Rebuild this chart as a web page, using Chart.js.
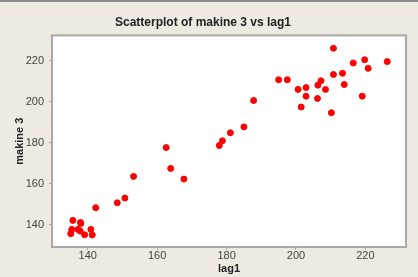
<!DOCTYPE html>
<html>
<head>
<meta charset="utf-8">
<script src="https://cdn.jsdelivr.net/npm/chart.js@4"></script>
<style>
  html, body { margin: 0; padding: 0; background: #eeeae1; }
  body { width: 418px; height: 277px; overflow: hidden; border-top: 2px solid #8c8c8c; box-sizing: border-box; }
  #wrap { position: relative; width: 418px; height: 275px; }
</style>
</head>
<body>
<div id="wrap"><canvas id="chart"></canvas></div>
<script>
// ------------------------
// DATA
// ------------------------
const lag1 = [
  135.1, 135.4, 135.7, 137.2, 137.8, 137.9, 138.0, 139.1, 140.9, 141.3,
  142.3, 148.5, 150.7, 153.2, 162.6, 163.9, 167.7, 177.9, 178.8, 181.1,
  185.0, 187.8, 195.0, 197.5, 200.6, 201.5, 202.9, 202.9, 206.2, 206.3,
  207.2, 208.5, 210.2, 210.8, 210.8, 213.4, 213.9, 216.5, 219.1, 219.8,
  220.8, 226.3
];
const makine3 = [
  135.6, 137.7, 142.1, 137.7, 136.9, 141.1, 140.6, 135.1, 137.7, 135.0,
  148.3, 150.7, 153.0, 163.6, 177.7, 167.5, 162.3, 178.7, 181.0, 184.9,
  187.8, 200.7, 210.8, 210.8, 206.1, 197.5, 207.0, 202.8, 201.7, 208.2,
  210.3, 206.1, 194.7, 226.2, 213.4, 214.0, 208.5, 219.0, 202.8, 220.6,
  216.4, 219.7
];
const xTicks = [140, 160, 180, 200, 220];
const yTicks = [140, 160, 180, 200, 220];

const points = lag1.map((x, i) => ({ x: x, y: makine3[i] }));

// white plot box with grey frame
const plotBox = {
  id: "plotBox",
  beforeDraw(chart) {
    const { ctx, chartArea: a } = chart;
    ctx.save();
    ctx.fillStyle = "#ffffff";
    ctx.fillRect(a.left, a.top, a.right - a.left, a.bottom - a.top);
    ctx.restore();
  },
  afterDraw(chart) {
    const { ctx, chartArea: a } = chart;
    ctx.save();
    ctx.strokeStyle = "#a8a8a8";
    ctx.lineWidth = 2;
    ctx.strokeRect(a.left, a.top, a.right - a.left, a.bottom - a.top);
    ctx.restore();
  }
};

const FONT = "'Liberation Sans', Arial, sans-serif";
const tickFont = { family: FONT, size: 11 };
const titleFont = { family: FONT, size: 11, weight: "bold" };

new Chart(document.getElementById("chart"), {
  type: "scatter",
  data: {
    datasets: [{
      data: points,
      backgroundColor: "#ff0000",
      borderColor: "#ff0000",
      pointRadius: 3,
      pointHoverRadius: 3
    }]
  },
  plugins: [plotBox],
  options: {
    responsive: true,
    maintainAspectRatio: false,
    animation: false,
    layout: { padding: { left: 0, right: 12, top: 0, bottom: 0 } },
    plugins: {
      legend: { display: false },
      tooltip: { enabled: false },
      title: {
        display: true,
        text: "Scatterplot of makine 3 vs lag1",
        color: "#222222",
        font: { family: FONT, size: 12, weight: "bold" },
        padding: { top: 13, bottom: 6 }
      }
    },
    scales: {
      x: {
        type: "linear",
        min: 129.7,
        max: 231.7,
        afterBuildTicks: s => { s.ticks = xTicks.map(v => ({ value: v })); },
        afterFit: s => { s.height = 30; },
        grid: { drawOnChartArea: false, drawTicks: true, tickLength: 3, color: "#a8a8a8" },
        border: { display: false },
        ticks: { color: "#444444", font: tickFont, padding: -1 },
        title: { display: true, text: "lag1", color: "#222222", font: titleFont, padding: { top: 0, bottom: 1 } }
      },
      y: {
        type: "linear",
        min: 129.1,
        max: 232.5,
        afterBuildTicks: s => { s.ticks = yTicks.map(v => ({ value: v })); },
        afterFit: s => { s.width = 52; },
        grid: { drawOnChartArea: false, drawTicks: true, tickLength: 3, color: "#a8a8a8" },
        border: { display: false },
        ticks: { color: "#444444", font: tickFont, padding: 5 },
        title: { display: true, text: "makine 3", color: "#222222", font: titleFont, padding: { top: 13, bottom: 0 } }
      }
    }
  }
});
</script>
</body>
</html>
